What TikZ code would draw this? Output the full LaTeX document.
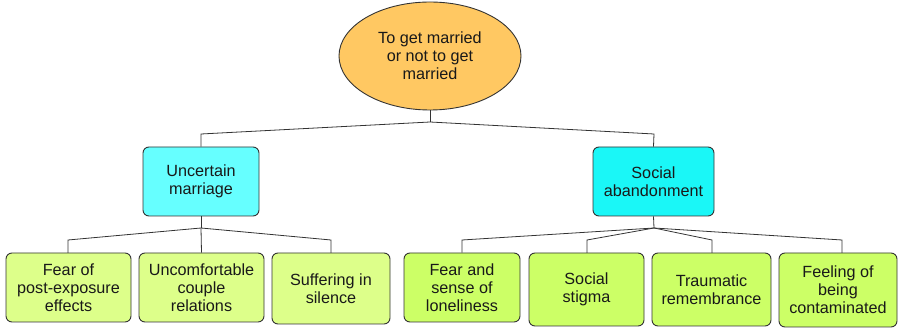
\documentclass[tikz,border=0pt]{standalone}
\usepackage{fontspec}
\setmainfont{Liberation Sans}
\usetikzlibrary{shapes.geometric}
\definecolor{rootfill}{HTML}{FFC862}
\definecolor{cyanA}{HTML}{66FFFF}
\definecolor{cyanB}{HTML}{1AF7F7}
\definecolor{greenA}{HTML}{DDFF8A}
\definecolor{greenB}{HTML}{CCFF66}
\definecolor{edge}{HTML}{333333}
\begin{document}
\begin{tikzpicture}[x=1pt,y=-1pt,
  every node/.style={font=\fontsize{16.2}{17.8}\selectfont, text=black!90, align=center, inner sep=0pt},
  rootnode/.style={ellipse, draw=edge, line width=0.9pt, fill=rootfill, minimum width=182pt, minimum height=108pt},
  topic/.style={rectangle, rounded corners=6pt, draw=edge, line width=0.9pt, minimum height=69pt},
  leaf/.style={rectangle, rounded corners=6pt, draw=edge, line width=0.9pt},
  link/.style={draw=edge, line width=0.8pt}]
\useasboundingbox (0,0) rectangle (898,328);

% root
\node[rootnode] (root) at (430,56) {To get married\\or not to get\\married};

% second level
\node[topic, fill=cyanA, minimum width=116pt] (um) at (201,181.5) {Uncertain\\marriage};
\node[topic, fill=cyanB, minimum width=121pt] (sa) at (653.5,181.5) {Social\\abandonment};

% leaves under "Uncertain marriage"
\node[leaf, fill=greenA, minimum width=125pt, minimum height=69pt] (c1) at (68.5,287.5) {Fear of\\post-exposure\\effects};
\node[leaf, fill=greenA, minimum width=125pt, minimum height=69pt] (c2) at (201.5,287.5) {Uncomfortable\\couple\\relations};
\node[leaf, fill=greenA, minimum width=118pt, minimum height=71pt] (c3) at (331,288.5) {Suffering in\\silence};

% leaves under "Social abandonment"
\node[leaf, fill=greenB, minimum width=116pt, minimum height=69pt] (c4) at (462,287.5) {Fear and\\sense of\\loneliness};
\node[leaf, fill=greenB, minimum width=115pt, minimum height=73pt] (c5) at (586.5,289.5) {Social\\stigma};
\node[leaf, fill=greenB, minimum width=119pt, minimum height=73pt] (c6) at (711.5,289.5) {Traumatic\\remembrance};
\node[leaf, fill=greenB, minimum width=118pt, minimum height=74pt] (c7) at (838,290) {Feeling of\\being\\contaminated};

% junction points
\coordinate (rj) at (430,122);
\coordinate (umj) at (201,228);
\coordinate (saj) at (654,228);

% connectors
\draw[link] (root.south) -- (rj);
\draw[link] (rj) -- (201,134) -- (um.north);
\draw[link] (rj) -- (654,134) -- (sa.north);

\draw[link] (um.south) -- (umj);
\draw[link] (umj) -- (68,240) -- (68,253);
\draw[link] (umj) -- (c2.north);
\draw[link] (umj) -- (331,240) -- (331,253);

\draw[link] (sa.south) -- (saj);
\draw[link] (saj) -- (462,240) -- (c4.north);
\draw[link] (saj) -- (587,240) -- (587,253);
\draw[link] (saj) -- (712,240) -- (712,253);
\draw[link] (saj) -- (842,240) -- (842,253);
\end{tikzpicture}
\end{document}
